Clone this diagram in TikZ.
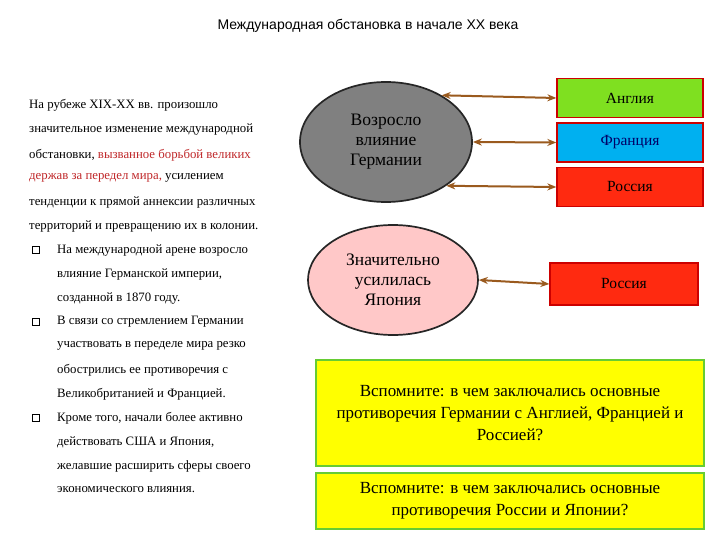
\documentclass[tikz,border=0pt]{standalone}
\usepackage{fontspec}
\setmainfont{Liberation Serif}
\newfontfamily\titlefont{Liberation Sans}
\usetikzlibrary{arrows.meta,shapes.geometric}
\definecolor{arr}{HTML}{9A5A1E}
\definecolor{gfill}{HTML}{808080}
\definecolor{pinkf}{HTML}{FFC8C8}
\definecolor{lgreen}{HTML}{7FE020}
\definecolor{lblue}{HTML}{00B0F0}
\definecolor{rred}{HTML}{FF2A10}
\definecolor{redtext}{HTML}{C0282A}
\definecolor{ybox}{HTML}{FFFF00}
\definecolor{gborder}{HTML}{66CC33}
\begin{document}
\begin{tikzpicture}[x=1pt,y=-1pt,
  lt/.style={anchor=west,font=\fontsize{12.8}{14}\selectfont,inner sep=0pt},
  ctry/.style={draw=red!80!black,line width=1.3pt,minimum width=146pt,minimum height=39pt,font=\fontsize{15.5}{17}\selectfont},
  ell/.style={ellipse,draw=black!85,line width=1.7pt,font=\fontsize{17.5}{20}\selectfont,align=center,inner sep=0pt},
  link/.style={arr,line width=2pt,{Stealth[length=9pt,width=7pt]}-{Stealth[length=9pt,width=7pt]}},
  qbox/.style={fill=ybox,draw=gborder,line width=1.5pt,minimum width=388pt,align=center,font=\fontsize{17}{22}\selectfont},
  bul/.style={draw,line width=1.3pt,minimum size=7pt,inner sep=0pt}]
\useasboundingbox (0,0) rectangle (720,540);
\fill[white] (0,0) rectangle (720,540);
\node[font=\titlefont\fontsize{14}{16}\selectfont] (title) at (368,26) {Международная обстановка в начале XX века};
% left text
\node[lt] (l1) at (29,105) {На рубеже XIX-XX вв. произошло};
\node[lt] (l2) at (29,130) {значительное изменение международной};
\node[lt] (l3) at (29,155) {обстановки, \textcolor{redtext}{вызванное борьбой великих}};
\node[lt] (l4) at (29,178) {\textcolor{redtext}{держав за передел мира,} усилением};
\node[lt] (l5) at (29,202) {тенденции к прямой аннексии различных};
\node[lt] (l6) at (29,226) {территорий и превращению их в колонии.};
\node[bul] (b1) at (36,250) {};
\node[lt] (l7) at (57,250) {На международной арене возросло};
\node[lt] (l8) at (57,274) {влияние Германской империи,};
\node[lt] (l9) at (57,298) {созданной в 1870 году.};
\node[bul] (b2) at (36,322) {};
\node[lt] (l10) at (57,322) {В связи со стремлением Германии};
\node[lt] (l11) at (57,346) {участвовать в переделе мира резко};
\node[lt] (l12) at (57,370) {обострились ее противоречия с};
\node[lt] (l13) at (57,394) {Великобританией и Францией.};
\node[bul] (b3) at (36,418) {};
\node[lt] (l14) at (57,418) {Кроме того, начали более активно};
\node[lt] (l15) at (57,442) {действовать США и Япония,};
\node[lt] (l16) at (57,466) {желавшие расширить сферы своего};
\node[lt] (l17) at (57,490) {экономического влияния.};
% ellipses
\node[ell,fill=gfill,minimum width=172pt,minimum height=120pt] (ger) at (386,142) {Возросло\\влияние\\Германии};
\node[ell,fill=pinkf,minimum width=170pt,minimum height=110pt] (jap) at (393,280) {Значительно\\усилилась\\Япония};
% countries
\node[ctry,fill=lgreen] (eng) at (630,98) {Англия};
\node[ctry,fill=lblue,text=blue!40!black] (fra) at (630,142.5) {Франция};
\node[ctry,fill=rred] (rus) at (630,187) {Россия};
\node[ctry,fill=rred,minimum width=148pt,minimum height=42pt] (rus2) at (624,284) {Россия};
% arrows
\draw[link] (ger.40) -- (eng.west);
\draw[link] (ger.east) -- (fra.west);
\draw[link] (ger.-36) -- (rus.west);
\draw[link] (jap.east) -- (rus2.west);
% questions
\node[qbox,minimum height=106pt] (q1) at (510,413) {Вспомните: в чем заключались основные\\противоречия Германии с Англией, Францией и\\Россией?};
\node[qbox,minimum height=56pt] (q2) at (510,501) {Вспомните: в чем заключались основные\\противоречия России и Японии?};
\end{tikzpicture}
\end{document}
